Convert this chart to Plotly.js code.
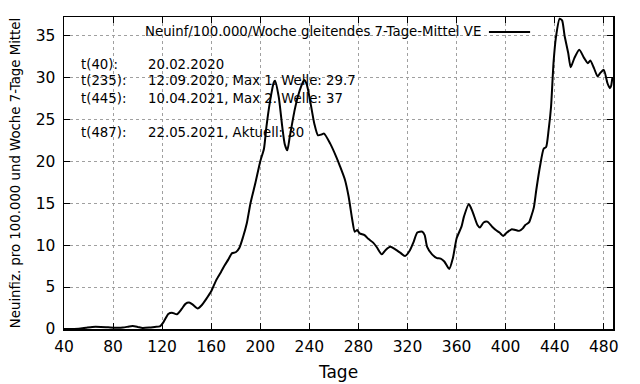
<!DOCTYPE html>
<html>
<head>
<meta charset="utf-8">
<script src="https://cdn.plot.ly/plotly-3.0.1.min.js"></script>
<style>html,body{margin:0;padding:0;background:#fff;}#chart{width:640px;height:384px;}</style>
</head>
<body>
<div id="chart"></div>
<script>
const days = [40,45,52,58,63,70,76,82,88,93,96,100,104,110,114,118,121,125,128,132,136,139,142,145,149,152,156,160,164,168,171,174,177,180,183,186,189,192,196,200,203,205,208,211,212,215,218,220,222,224,228,231,235,236,238,241,244,247,250,252,257,262,265,269,272,275,277,279,281,285,288,292,295,299,302,306,310,314,318,322,325,328,332,334,336,340,344,347,350,354,357,360,364,366,370,373,377,379,382,385,389,392,395,398,401,405,408,411,414,416,419,421,423,425,428,431,433,435,437,439,441,444,446,448,451,453,456,460,464,467,469,472,475,477,480,483,485,486,487];
const values = [0,0,0.02,0.15,0.25,0.25,0.2,0.15,0.17,0.3,0.35,0.25,0.12,0.18,0.25,0.3,0.8,1.8,1.95,1.75,2.4,3.0,3.15,2.9,2.45,2.8,3.6,4.5,5.8,6.8,7.6,8.3,9.05,9.15,9.7,11.0,12.6,15.0,17.4,20.0,21.5,24.1,27.2,29.4,29.6,27.7,24.0,22.0,21.3,22.9,26.1,27.9,29.5,29.7,29.1,26.9,24.5,23.1,23.2,23.3,22.1,20.5,19.4,17.8,15.8,13.0,11.6,11.8,11.4,11.2,10.75,10.3,9.75,8.9,9.4,9.8,9.5,9.1,8.7,9.4,10.4,11.5,11.6,11.2,9.8,8.9,8.45,8.4,8.05,7.15,8.45,10.8,12.2,13.4,14.9,14.0,12.4,12.1,12.7,12.8,12.2,11.8,11.5,11.1,11.5,11.9,11.8,11.7,12.0,12.4,12.7,13.5,14.5,16.6,19.4,21.5,21.7,23.7,26.5,31.7,34.8,37.0,36.8,35.0,32.9,31.2,32.3,33.3,32.3,31.7,32.0,31.1,30.1,30.5,30.9,29.3,28.7,29.0,30.0];
const legendLabel = "Neuinf/100.000/Woche gleitendes 7-Tage-Mittel VE";
const infoLabels = ["t(40):", "t(235):", "t(445):", "t(487):"];
const infoTexts = ["20.02.2020", "12.09.2020, Max 1. Welle: 29.7", "10.04.2021, Max 2. Welle: 37", "22.05.2021, Aktuell: 30"];
const xTitle = "Tage";
const yTitle = "Neuinfiz. pro 100.000 und Woche 7-Tage Mittel";

const font = "DejaVu Sans, sans-serif";
const fs = 13.3;
const infoY = [0.849, 0.795, 0.740, 0.631];
const annotations = [];
infoLabels.forEach((t, i) => {
  annotations.push({xref:'paper', yref:'paper', x:0.027, y:infoY[i], xanchor:'left', yanchor:'middle', text:t, showarrow:false, font:{family:font, size:fs, color:'#000'}});
  annotations.push({xref:'paper', yref:'paper', x:0.149, y:infoY[i], xanchor:'left', yanchor:'middle', text:infoTexts[i], showarrow:false, font:{family:font, size:fs, color:'#000'}});
});
annotations.push({xref:'paper', yref:'paper', x:0.7633, y:0.952, xanchor:'right', yanchor:'middle', text:legendLabel, showarrow:false, font:{family:font, size:fs, color:'#000'}});

const axisCommon = {
  showline:true, linecolor:'#000', linewidth:1.5, mirror:'ticks',
  ticks:'inside', ticklen:6, tickwidth:1, tickcolor:'#000',
  showgrid:true, gridcolor:'#a0a0a0', gridwidth:1, griddash:'dot',
  zeroline:false, tickfont:{family:font, size:15.5, color:'#000'}
};

Plotly.newPlot('chart', [{
  x: days, y: values, type:'scatter', mode:'lines',
  line:{color:'#000', width:2, shape:'spline', smoothing:0.6},
  showlegend:false, hoverinfo:'skip'
}], {
  width:640, height:384,
  margin:{l:64, r:27, t:17, b:55},
  paper_bgcolor:'#fff', plot_bgcolor:'#fff',
  xaxis: Object.assign({}, axisCommon, {range:[40, 487.5], tick0:40, dtick:40, ticklabelstandoff:3,
    title:{text:xTitle, font:{family:font, size:17, color:'#000'}, standoff:11}}),
  yaxis: Object.assign({}, axisCommon, {range:[0, 37.2], tick0:0, dtick:5, ticklabelstandoff:4,
    title:{text:yTitle, font:{family:font, size:fs, color:'#000'}, standoff:12}}),
  annotations: annotations,
  shapes:[{type:'line', xref:'paper', yref:'paper', x0:0.774, x1:0.849, y0:0.952, y1:0.952, line:{color:'#000', width:2}}]
}, {staticPlot:true, displayModeBar:false});
</script>
</body>
</html>
